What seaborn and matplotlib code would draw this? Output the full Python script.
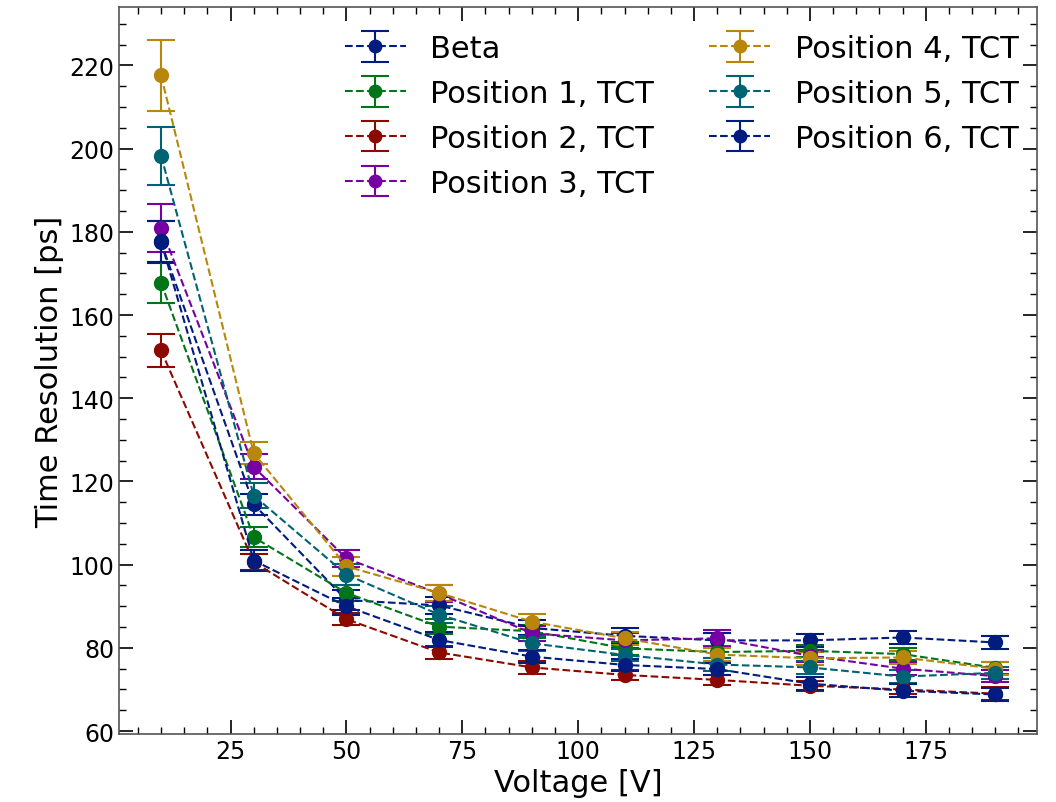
import matplotlib
matplotlib.use("Agg")
import matplotlib.pyplot as plt
import seaborn as sns
from matplotlib.ticker import MultipleLocator

# bias voltages
voltage = [10, 30, 50, 70, 90, 110, 130, 150, 170, 190]

labels = ["Beta", "Position 1, TCT", "Position 2, TCT", "Position 3, TCT",
          "Position 4, TCT", "Position 5, TCT", "Position 6, TCT"]

beta = [177.5, 114.5, 91.5, 90.2, 84.8, 82.9, 81.8, 81.8, 82.5, 81.3]
beta_err = [5.0, 2.5, 2.5, 2.0, 1.8, 1.8, 1.8, 1.5, 1.5, 1.5]

pos1 = [167.8, 106.6, 93.2, 85.1, 84.0, 79.9, 79.0, 79.3, 78.5, 75.2]
pos1_err = [5.0, 2.4, 2.0, 1.8, 1.6, 1.5, 1.5, 1.5, 1.5, 1.5]

pos2 = [151.5, 100.6, 86.9, 78.9, 75.3, 73.5, 72.3, 70.9, 70.0, 69.0]
pos2_err = [4.0, 2.0, 1.5, 1.5, 1.5, 1.2, 1.2, 1.2, 1.2, 1.5]

pos3 = [181.0, 123.5, 101.5, 93.0, 83.5, 81.8, 82.3, 78.1, 75.0, 73.2]
pos3_err = [5.8, 3.0, 2.0, 2.0, 1.8, 1.8, 2.0, 1.5, 1.5, 1.5]

pos4 = [217.6, 126.8, 99.6, 93.2, 86.3, 82.3, 78.4, 77.5, 77.7, 75.0]
pos4_err = [8.5, 2.6, 2.3, 2.0, 1.8, 1.5, 1.5, 1.5, 1.5, 1.5]

pos5 = [198.3, 116.6, 97.6, 88.0, 81.1, 78.3, 76.0, 75.3, 73.1, 74.0]
pos5_err = [7.0, 3.0, 2.5, 2.0, 1.8, 1.5, 1.5, 1.5, 1.5, 1.5]

pos6 = [177.7, 101.0, 90.0, 81.9, 77.9, 75.9, 74.9, 71.4, 69.7, 68.8]
pos6_err = [5.0, 2.5, 2.0, 1.8, 1.6, 1.5, 1.5, 1.5, 1.5, 1.5]

series = [beta, pos1, pos2, pos3, pos4, pos5, pos6]
errors = [beta_err, pos1_err, pos2_err, pos3_err, pos4_err, pos5_err, pos6_err]

# old seaborn "dark" palette (6 colours, cycles)
dark = ["#001C7F", "#017517", "#8C0900", "#7600A1", "#B8860B", "#006374"]

sns.set_style("ticks")
sns.set_palette(dark)
plt.rcParams["font.family"] = ["DejaVu Sans"]
plt.rcParams.update({
    "text.color": "black", "axes.labelcolor": "black",
    "xtick.color": "black", "ytick.color": "black",
    "xtick.direction": "in", "ytick.direction": "in",
    "xtick.top": True, "ytick.right": True,
    "xtick.major.size": 10, "ytick.major.size": 10,
    "xtick.minor.size": 5, "ytick.minor.size": 5,
    "xtick.major.width": 1.2, "ytick.major.width": 1.2,
    "xtick.minor.width": 1.0, "ytick.minor.width": 1.0,
    "axes.linewidth": 1.2,
    "axes.edgecolor": "#555555",
})

fig, ax = plt.subplots(figsize=(10.56, 8.03), dpi=100)
fig.subplots_adjust(left=0.113, right=0.982, top=0.990, bottom=0.085)

pal = sns.color_palette(dark, 7)
for i, (y, e, lab) in enumerate(zip(series, errors, labels)):
    ax.errorbar(voltage, y, yerr=e, fmt="o--", color=pal[i % 6], label=lab,
                markersize=10, capsize=10, linewidth=1.5, elinewidth=1.5,
                capthick=1.5)

ax.xaxis.set_major_locator(MultipleLocator(25))
ax.xaxis.set_minor_locator(MultipleLocator(5))
ax.yaxis.set_major_locator(MultipleLocator(20))
ax.yaxis.set_minor_locator(MultipleLocator(5))
ax.tick_params(labelsize=17)
ax.set_xlabel("Voltage [V]", fontsize=22)
ax.set_ylabel("Time Resolution [ps]", fontsize=22)
ax.legend(ncol=2, frameon=False, fontsize=22, loc="upper right",
          bbox_to_anchor=(1.0, 0.988), borderaxespad=0.2, markerscale=0.9,
          columnspacing=1.8, labelspacing=0.52)

fig.savefig("out.png", dpi=100)
